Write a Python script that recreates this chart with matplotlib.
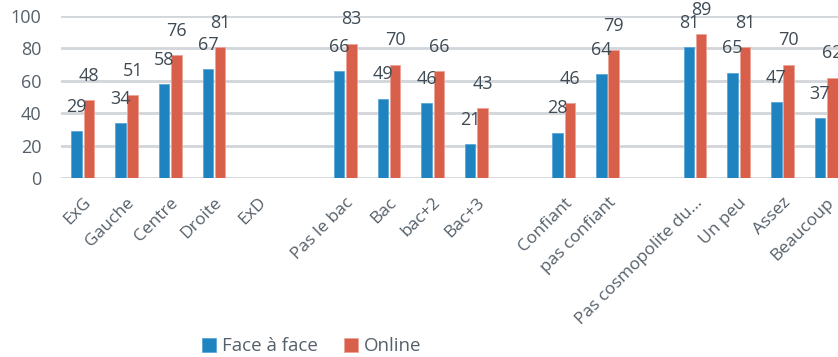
import matplotlib.pyplot as plt
import numpy as np

plt.rcParams['font.family'] = ['Open Sans', 'DejaVu Sans']

# categories, with empty slots separating the groups
categories = ['ExG', 'Gauche', 'Centre', 'Droite', 'ExD', '',
              'Pas le bac', 'Bac', 'bac+2', 'Bac+3', '',
              'Confiant', 'pas confiant', '',
              'Pas cosmopolite du…', 'Un peu', 'Assez', 'Beaucoup']
face = [29, 34, 58, 67, np.nan, np.nan,
        66, 49, 46, 21, np.nan,
        28, 64, np.nan,
        81, 65, 47, 37]
online = [48, 51, 76, 81, np.nan, np.nan,
          83, 70, 66, 43, np.nan,
          46, 79, np.nan,
          89, 81, 70, 62]

blue = '#1f83c0'
red = '#d8604b'
text_col = '#3e4a54'
grid_col = '#d2d5da'

fig = plt.figure(figsize=(8.38, 3.57), dpi=100)
ax = fig.add_axes([61 / 838, 1 - 178 / 357, 787 / 838, 162 / 357])

x = np.arange(len(categories))
w = 0.24
b1 = ax.bar(x - w / 2 - 0.02, face, w, color=blue, edgecolor='#5aa6d6',
            linewidth=0.6, label='Face à face', zorder=3)
b2 = ax.bar(x + w / 2 + 0.02, online, w, color=red, edgecolor='#eca597',
            linewidth=0.6, label='Online', zorder=3)

for bars, vals in ((b1, face), (b2, online)):
    for rect, v in zip(bars, vals):
        if np.isnan(v):
            continue
        ax.annotate(f'{v:.0f}', (rect.get_x() + rect.get_width() / 2, v),
                    xytext=(0, 11), textcoords='offset points',
                    ha='center', va='bottom', fontsize=13, color=text_col,
                    clip_on=False, zorder=4)

ax.set_xlim(-0.5, len(categories) - 0.5)
ax.set_ylim(0, 100)
ax.set_yticks(range(0, 101, 20))
ax.yaxis.grid(True, color=grid_col, linewidth=2)
ax.set_axisbelow(True)
for s in ax.spines.values():
    s.set_visible(False)

ax.tick_params(axis='y', length=0, pad=14, labelsize=13, labelcolor='#56606a')
ax.tick_params(axis='x', length=0, pad=12)
ax.set_xticks(x)
ax.set_xticklabels(categories, rotation=45, ha='right', va='top',
                   rotation_mode='anchor', fontsize=12.5, color='#56606a')

fig.legend(loc='center', bbox_to_anchor=(0.372, 0.03), ncol=2, frameon=False,
           fontsize=13.5, handlelength=0.75, handleheight=0.75,
           handletextpad=0.3, columnspacing=1.4, labelcolor='#56606a')

fig.savefig('out.png', dpi=100)
